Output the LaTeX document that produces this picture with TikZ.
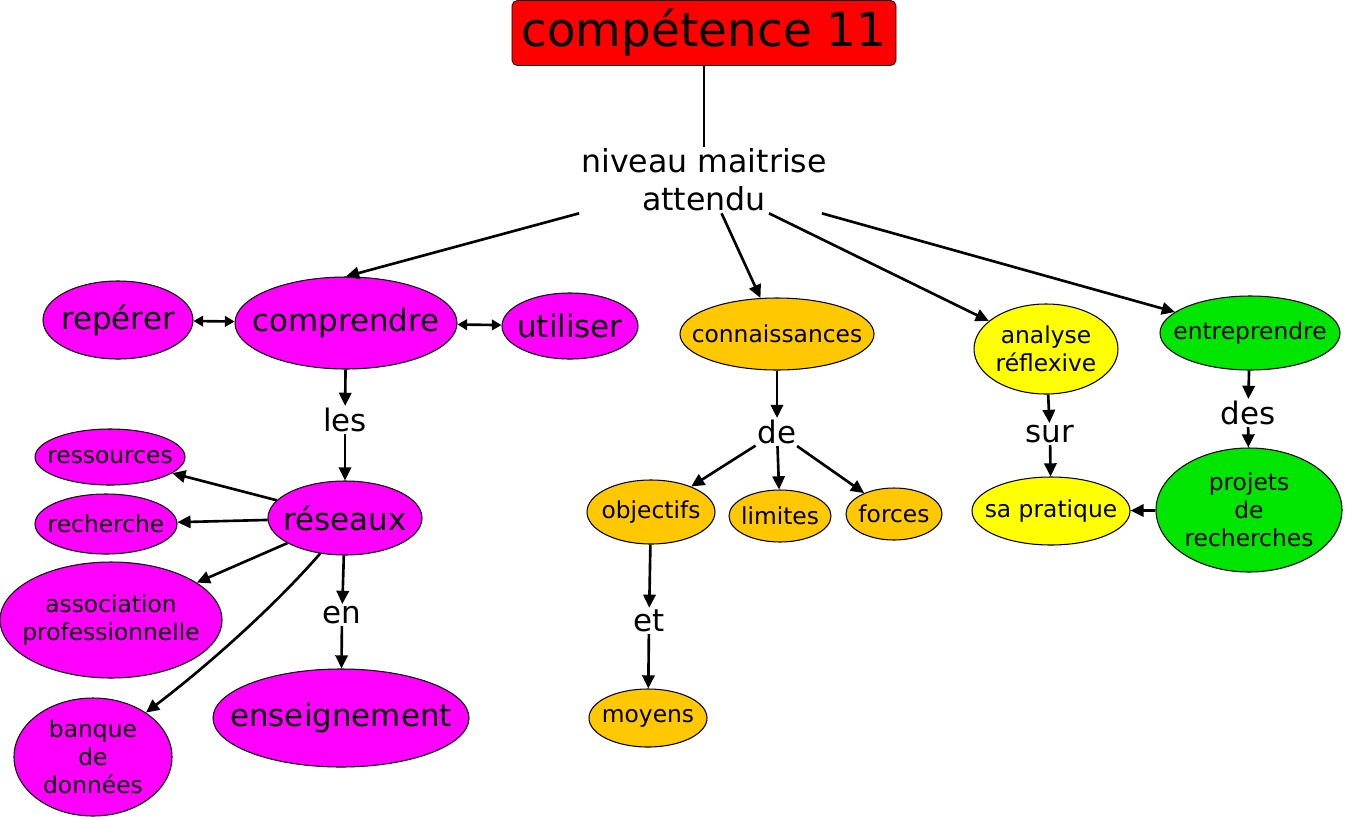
\documentclass[tikz,border=0pt]{standalone}
\usepackage{fontspec}
\setmainfont{DejaVu Sans}
\usetikzlibrary{arrows.meta,shapes.geometric}
\definecolor{rouge}{RGB}{255,0,0}
\definecolor{magenta}{RGB}{255,0,255}
\definecolor{orange}{RGB}{255,200,0}
\definecolor{jaune}{RGB}{255,255,0}
\definecolor{vert}{RGB}{0,230,0}

\begin{document}
\begin{tikzpicture}[x=0.2mm,y=-0.2mm,
    bulle/.style={ellipse,draw,line width=0.6pt,fill=#1,inner sep=0pt},
    taille/.style 2 args={minimum width=#1*0.2mm,minimum height=#2*0.2mm},
    petit/.style={font=\fontsize{13.3}{16}\selectfont,align=center},
    grand/.style={font=\fontsize{17.6}{21}\selectfont,align=center},
    mot/.style={inner sep=1pt,font=\fontsize{17.6}{21}\selectfont},
    fl/.style={-{Triangle[length=7.5pt,width=7pt]},line width=1.5pt},
    dfl/.style={{Triangle[length=5.5pt,width=6pt]}-{Triangle[length=5.5pt,width=6pt]},line width=1.5pt}]
    \useasboundingbox (0,0) rectangle (1345,819);

    \node[draw,fill=rouge,rounded corners=3pt,inner sep=0pt,taille={384}{65},font=\fontsize{26.7}{32}\selectfont] (titre) at (704,33) {compétence 11};
    \node[mot,align=center,font=\fontsize{18}{21.6}\selectfont] (niveau) at (704,180) {niveau maitrise\\attendu};

    \node[bulle=magenta,taille={150}{78},label={[grand]center:repérer}] (reperer) at (118,320) {};
    \node[bulle=magenta,taille={222}{92},label={[grand]center:comprendre}] (comprendre) at (346,323) {};
    \node[bulle=magenta,taille={136}{66},label={[grand]center:utiliser}] (utiliser) at (570,326) {};
    \node[mot] (les) at (345,420) {les};
    \node[bulle=magenta,taille={154}{74},label={[grand]center:réseaux}] (reseaux) at (345,518) {};
    \node[bulle=magenta,taille={150}{56},label={[petit]center:ressources}] (ressources) at (110,457) {};
    \node[bulle=magenta,taille={142}{60},label={[petit]center:recherche}] (recherche) at (106,524) {};
    \node[bulle=magenta,taille={222}{116},label={[petit]center:association\\professionnelle}] (association) at (111,620) {};
    \node[bulle=magenta,taille={158}{118},label={[petit]center:banque\\de\\données}] (banque) at (93,757) {};
    \node[mot] (en) at (342,615) {en};
    \node[bulle=magenta,taille={256}{98},label={[grand]center:enseignement}] (enseignement) at (341,718) {};

    \node[bulle=orange,taille={194}{72},label={[petit]center:connaissances}] (connaissances) at (777,334) {};
    \node[mot] (de) at (777,432) {de};
    \node[bulle=orange,taille={128}{64},label={[petit]center:objectifs}] (objectifs) at (651,512) {};
    \node[bulle=orange,taille={102}{52},label={[petit]center:limites}] (limites) at (780,516) {};
    \node[bulle=orange,taille={96}{52},label={[petit]center:forces}] (forces) at (894,514) {};
    \node[mot] (et) at (649,621) {et};
    \node[bulle=orange,taille={118}{58},label={[petit]center:moyens}] (moyens) at (648,718) {};

    \node[bulle=jaune,taille={144}{90},label={[petit]center:analyse\\réflexive}] (analyse) at (1046,349) {};
    \node[mot] (sur) at (1050,434) {sur};
    \node[bulle=jaune,taille={158}{68},label={[petit]center:sa pratique}] (pratique) at (1051,511) {};

    \node[bulle=vert,taille={180}{74},label={[petit]center:entreprendre}] (entreprendre) at (1250,333) {};
    \node[mot] (des) at (1248,413) {des};
    \node[bulle=vert,taille={186}{124},label={[petit]center:projets\\de\\recherches}] (projets) at (1249,510) {};

    \draw[line width=1.5pt] (titre.south) -- (niveau.north);
    \draw[fl] (niveau.south west) -- (comprendre.north);
    \draw[fl] ([xshift=10pt]niveau.south) -- (connaissances);
    \draw[fl] ([xshift=37pt]niveau.south) -- (analyse);
    \draw[fl] ([xshift=-4pt]niveau.south east) -- (entreprendre);

    \draw[dfl] (reperer) -- (comprendre);
    \draw[dfl] (comprendre) -- (utiliser);
    \draw[fl] (comprendre) -- (les);
    \draw[fl] (les) -- (reseaux);
    \draw[fl] (reseaux) -- (ressources);
    \draw[fl] (reseaux) -- (recherche);
    \draw[fl] (reseaux) -- (association);
    \draw[fl] (reseaux.235) .. controls (280,600) and (215,660) .. (banque.40);
    \draw[fl] (reseaux) -- (en);
    \draw[fl] (en) -- (enseignement);

    \draw[fl] (connaissances) -- (de);
    \draw[fl] (de) -- (objectifs);
    \draw[fl] (de) -- (limites);
    \draw[fl] (de) -- (forces);
    \draw[fl] (objectifs) -- (et);
    \draw[fl] (et) -- (moyens);

    \draw[fl] (analyse) -- (sur);
    \draw[fl] (sur) -- (pratique);
    \draw[fl] (entreprendre) -- (des);
    \draw[fl] (des) -- (projets);
    \draw[fl] (projets) -- (pratique);
\end{tikzpicture}
\end{document}
